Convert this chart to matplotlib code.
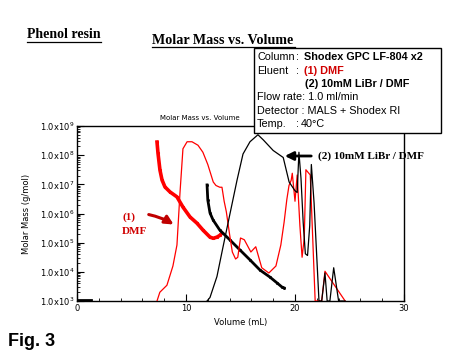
import math
import matplotlib
matplotlib.use("Agg")
from matplotlib import pyplot as plt
from matplotlib.patches import Rectangle
from matplotlib.ticker import FixedLocator, MultipleLocator, LogLocator, FuncFormatter

# molar mass (MALS), volume in mL, log10 of molar mass in g/mol
mm1_vol = [7.34, 7.43, 7.61, 7.8, 8.07, 8.53, 9.17, 9.72, 10.37, 11.0, 11.56, 12.2, 12.5, 12.84, 13.1, 13.3]
mm1_logm = [8.45, 8.07, 7.49, 7.15, 6.91, 6.74, 6.57, 6.22, 5.88, 5.67, 5.43, 5.19, 5.15, 5.19, 5.25, 5.33]
mm2_vol = [11.93, 12.0, 12.2, 12.48, 13.1, 14.04, 14.95, 15.87, 16.79, 17.7, 18.35, 18.8, 19.0]
mm2_logm = [6.98, 6.46, 6.02, 5.78, 5.43, 5.09, 4.75, 4.41, 4.06, 3.82, 3.62, 3.48, 3.45]

# RI chromatograms, relative signal 0..1
ri1_vol = [7.34, 7.6, 8.25, 8.8, 9.17, 9.45, 9.72, 10.1, 10.55, 11.1, 11.55, 12.0, 12.5, 12.75, 13.1, 13.3,
           13.5, 13.7, 14.0, 14.25, 14.55, 14.75, 15.0, 15.35, 15.95, 16.4, 16.95, 17.6, 18.25, 18.7, 19.0,
           19.25, 19.45, 19.65, 19.75, 20.0, 20.2, 20.45, 20.65, 20.85, 21.0, 21.4, 21.85, 22.2, 22.45, 22.75, 24.6]
ri1_sig = [0.0, 0.05, 0.09, 0.2, 0.32, 0.62, 0.87, 0.91, 0.91, 0.89, 0.85, 0.78, 0.68, 0.66, 0.65, 0.65,
           0.57, 0.51, 0.38, 0.28, 0.24, 0.25, 0.36, 0.35, 0.28, 0.31, 0.19, 0.16, 0.2, 0.32, 0.45,
           0.58, 0.66, 0.69, 0.73, 0.57, 0.72, 0.43, 0.25, 0.36, 0.75, 0.72, 0.0, 0.0, 0.0, 0.17, 0.0]
ri2_vol = [11.93, 12.2, 12.84, 13.4, 14.04, 14.68, 15.23, 15.87, 16.6, 17.1, 18.0, 18.92, 19.46, 20.0, 20.2,
           20.36, 20.55, 20.75, 20.95, 21.15, 21.35, 21.5, 21.75, 22.2, 22.45, 22.75, 22.95, 23.2, 23.55, 24.0, 24.6]
ri2_sig = [0.0, 0.02, 0.14, 0.31, 0.5, 0.69, 0.84, 0.91, 0.95, 0.92, 0.86, 0.82, 0.68, 0.63, 0.62,
           0.85, 0.7, 0.45, 0.27, 0.26, 0.43, 0.78, 0.56, 0.0, 0.0, 0.16, 0.0, 0.0, 0.19, 0.0, 0.0]

x_ticks = [0, 10, 20, 30]
y_decades = [3, 4, 5, 6, 7, 8, 9]

W, H = 450, 360


def fx(px):
    return px / W


def fy(py):
    return 1 - py / H


fig = plt.figure(figsize=(4.5, 3.6), dpi=100)
ax = fig.add_axes([fx(77), fy(301), (404 - 77) / W, (301 - 126) / H])

ax.plot(mm1_vol, [10 ** v for v in mm1_logm], color="red", lw=2.6, marker="s", ms=1.2, zorder=3)
ax.plot(mm2_vol, [10 ** v for v in mm2_logm], color="black", lw=2.0, marker="s", ms=1.0, zorder=3)
ax.plot([0.1, 1.3], [1.05e3, 1.05e3], color="black", lw=2)

ax.set_yscale("log")
ax.set_xlim(0, 30)
ax.set_ylim(1e3, 1e9)
ax.xaxis.set_major_locator(FixedLocator(x_ticks))
ax.xaxis.set_minor_locator(MultipleLocator(2))
ax.yaxis.set_major_locator(FixedLocator([10 ** d for d in y_decades]))
ax.yaxis.set_minor_locator(LogLocator(base=10, subs=range(2, 10)))
ax.yaxis.set_major_formatter(FuncFormatter(lambda v, p: "1.0x10$^{%d}$" % round(math.log10(v))))
ax.tick_params(which="both", direction="in", top=False, right=False, labelsize=6, pad=2)
ax.tick_params(which="major", length=5, width=0.8)
ax.tick_params(which="minor", length=2.5, width=0.6)
ax.set_xlabel("Volume (mL)", fontsize=6, labelpad=4)
ax.set_ylabel("Molar Mass (g/mol)", fontsize=6, labelpad=6)
ax.set_title("Molar Mass vs. Volume", fontsize=5, pad=4, x=0.376)
for s in ax.spines.values():
    s.set_linewidth(1.0)

ax2 = ax.twinx()
ax2.plot(ri1_vol, ri1_sig, color="red", lw=0.9)
ax2.plot(ri2_vol, ri2_sig, color="black", lw=0.9)
ax2.set_ylim(0, 1)
ax2.set_xlim(0, 30)
ax2.set_yticks([])
for s in ax2.spines.values():
    s.set_visible(False)

# annotations
red_txt = "#d00000"
fig.text(fx(122), fy(217), "(1)", color=red_txt, fontsize=8, fontweight="bold",
         family="Liberation Serif", va="center")
fig.text(fx(122), fy(231), "DMF", color=red_txt, fontsize=8, fontweight="bold",
         family="Liberation Serif", va="center")
ax.annotate("", xy=(fx(176), fy(226)), xycoords="figure fraction",
            xytext=(fx(146), fy(214)), textcoords="figure fraction",
            arrowprops=dict(arrowstyle="-|>,head_length=0.5,head_width=0.25", color="#c00000",
                            lw=2.2, connectionstyle="arc3,rad=-0.1"))
fig.text(fx(318), fy(156), "(2) 10mM LiBr / DMF", color="black", fontsize=8, fontweight="bold",
         family="Liberation Serif", va="center")
ax.annotate("", xy=(fx(282), fy(156)), xycoords="figure fraction",
            xytext=(fx(314), fy(156)), textcoords="figure fraction",
            arrowprops=dict(arrowstyle="-|>,head_length=0.5,head_width=0.25", color="black", lw=2.0))

# titles
fig.text(fx(27), fy(35), "Phenol resin", fontsize=10, fontweight="bold", family="Liberation Serif",
         va="center")
fig.add_artist(plt.Line2D([fx(27), fx(101)], [fy(42), fy(42)], color="black", lw=0.9))
fig.text(fx(152), fy(40), "Molar Mass vs. Volume", fontsize=10.2, fontweight="bold",
         family="Liberation Serif", va="center")
fig.add_artist(plt.Line2D([fx(152), fx(295)], [fy(47), fy(47)], color="black", lw=0.9))
fig.text(fx(8), fy(341), "Fig. 3", fontsize=13, fontweight="bold", family="Liberation Sans", va="center")

# info box
box = Rectangle((fx(254), fy(133)), (441 - 254) / W, (133 - 48) / H, transform=fig.transFigure,
                facecolor="white", edgecolor="black", lw=1.0, zorder=5)
fig.patches.append(box)
fs = 7.8
fam = "Liberation Sans"
rows = [57, 71, 84, 97, 111, 124]
fig.text(fx(257), fy(rows[0]), "Column", fontsize=fs, family=fam, va="center", zorder=6)
fig.text(fx(296), fy(rows[0]), ":", fontsize=fs, family=fam, va="center", zorder=6)
fig.text(fx(304), fy(rows[0]), "Shodex GPC LF-804 x2", fontsize=fs, family=fam, fontweight="bold",
         va="center", zorder=6)
fig.text(fx(257), fy(rows[1]), "Eluent", fontsize=fs, family=fam, va="center", zorder=6)
fig.text(fx(296), fy(rows[1]), ":", fontsize=fs, family=fam, va="center", zorder=6)
fig.text(fx(304), fy(rows[1]), "(1) DMF", fontsize=fs, family=fam, fontweight="bold", color=red_txt,
         va="center", zorder=6)
fig.text(fx(305), fy(rows[2]), "(2) 10mM LiBr / DMF", fontsize=fs, family=fam, fontweight="bold",
         va="center", zorder=6)
fig.text(fx(257), fy(rows[3]), "Flow rate: 1.0 ml/min", fontsize=fs, family=fam, va="center", zorder=6)
fig.text(fx(257), fy(rows[4]), "Detector : MALS + Shodex RI", fontsize=fs, family=fam, va="center", zorder=6)
fig.text(fx(257), fy(rows[5]), "Temp.", fontsize=fs, family=fam, va="center", zorder=6)
fig.text(fx(296), fy(rows[5]), ":", fontsize=fs, family=fam, va="center", zorder=6)
fig.text(fx(301), fy(rows[5]), "40°C", fontsize=fs, family=fam, va="center", zorder=6)

fig.savefig("out.png", dpi=100)
